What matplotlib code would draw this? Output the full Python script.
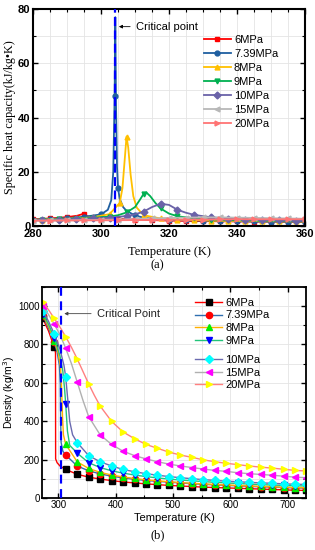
import matplotlib
matplotlib.use("Agg")
import matplotlib.pyplot as plt
from matplotlib.ticker import MultipleLocator

# ---- (a) specific heat capacity vs temperature ----
labels = ["6MPa", "7.39MPa", "8MPa", "9MPa", "10MPa", "15MPa", "20MPa"]

cp_T_6 = [280, 285, 290, 293, 294.5, 295, 295.6, 297, 300, 305, 310, 315, 320, 325, 330, 335, 340, 345, 350, 355, 360]
cp_6 = [2.5, 2.8, 3.3, 3.8, 4.4, 4.6, 3.7, 3.4, 3.1, 2.7, 2.4, 2.2, 2.0, 1.9, 1.8, 1.75, 1.7, 1.65, 1.6, 1.55, 1.5]

cp_T_739 = [280, 285, 290, 295, 300, 302, 303, 303.6, 304, 304.2, 304.4, 304.7, 305, 305.5, 306.5, 307.5, 310, 312.5,
            315, 320, 325, 330, 335, 340, 345, 350, 355, 360]
cp_739 = [2.4, 2.6, 2.9, 3.4, 4.3, 6.0, 9.5, 20, 48, 77, 45, 22, 14, 10, 7.0, 5.6, 3.9, 3.1, 2.7, 2.3, 2.1, 2.0,
          1.9, 1.8, 1.7, 1.65, 1.6, 1.55]

cp_T_8 = [280, 282.5, 287.5, 292.5, 297.5, 302.5, 305.5, 306.3, 307, 307.5, 308, 308.7, 309.5, 310.5, 312.5, 317.5,
          322.5, 327.5, 332.5, 337.5, 342.5, 347.5, 352.5, 357.5, 360]
cp_8 = [2.3, 2.4, 2.6, 2.8, 3.2, 4.4, 8.5, 14, 25, 33, 29, 19, 11, 6.8, 4.0, 2.8, 2.4, 2.2, 2.0, 1.9, 1.85, 1.8,
        1.75, 1.7, 1.65]

cp_T_9 = [280, 282.5, 287.5, 292.5, 297.5, 302.5, 305, 307.5, 310, 311.5, 312.5, 313.3, 314.5, 316, 317.5, 320,
          322.5, 327.5, 332.5, 337.5, 342.5, 347.5, 352.5, 357.5, 360]
cp_9 = [2.2, 2.3, 2.5, 2.7, 3.0, 3.5, 4.0, 5.0, 7.0, 9.8, 11.8, 12.4, 11.0, 8.5, 6.5, 4.6, 3.6, 2.8, 2.4, 2.2,
        2.05, 1.95, 1.9, 1.85, 1.8]

cp_T_10 = [280, 282.5, 287.5, 292.5, 297.5, 302.5, 307.5, 310, 312.5, 315, 317.5, 320, 322.5, 325, 327.5, 332.5,
           337.5, 342.5, 347.5, 352.5, 357.5, 360]
cp_10 = [2.1, 2.2, 2.4, 2.6, 2.8, 3.1, 3.7, 4.3, 5.3, 7.0, 8.2, 7.8, 6.0, 4.9, 4.1, 3.2, 2.7, 2.4, 2.2, 2.05,
         1.95, 1.9]

cp_T_15 = [280, 285, 290, 295, 300, 305, 310, 315, 320, 325, 330, 335, 340, 345, 350, 355, 360]
cp_15 = [2.0, 2.05, 2.1, 2.2, 2.3, 2.4, 2.6, 2.8, 3.0, 3.1, 3.2, 3.2, 3.1, 3.0, 2.9, 2.8, 2.7]

cp_T_20 = [280, 285, 290, 295, 300, 305, 310, 315, 320, 325, 330, 335, 340, 345, 350, 355, 360]
cp_20 = [2.0, 2.0, 2.05, 2.1, 2.1, 2.15, 2.2, 2.25, 2.3, 2.35, 2.4, 2.45, 2.5, 2.5, 2.5, 2.5, 2.5]

# ---- (b) density vs temperature ----
rho_T_6 = [273, 283, 293, 294.5, 295.2, 295.4, 298, 303, 313, 333, 353, 373, 393, 413, 433, 453, 473, 493, 513,
           533, 553, 573, 593, 613, 633, 653, 673, 693, 713, 733]
rho_6 = [935, 870, 785, 770, 755, 205, 185, 168, 150, 125, 110, 100, 92, 85, 80, 75, 71, 67, 64, 61, 58, 56, 54,
         52, 50, 48, 46, 44, 42, 41]

rho_T_739 = [273, 283, 293, 298, 302, 303.5, 304.2, 305, 308, 313, 333, 353, 373, 393, 413, 433, 453, 473, 493,
             513, 533, 553, 573, 593, 613, 633, 653, 673, 693, 713, 733]
rho_739 = [950, 885, 810, 760, 690, 600, 400, 290, 245, 225, 168, 143, 127, 115, 106, 99, 93, 88, 84, 80, 76, 73,
           70, 67, 65, 62, 60, 58, 56, 54, 53]

rho_T_8 = [273, 283, 293, 300, 304, 306, 307.5, 309, 313, 333, 353, 373, 393, 413, 433, 453, 473, 493, 513, 533,
           553, 573, 593, 613, 633, 653, 673, 693, 713, 733]
rho_8 = [955, 895, 820, 755, 680, 560, 420, 330, 280, 190, 155, 135, 121, 111, 103, 96, 91, 86, 82, 78, 75, 72,
         69, 67, 64, 62, 60, 58, 56, 55]

rho_T_9 = [273, 283, 293, 303, 308, 311, 313, 316, 320, 333, 353, 373, 393, 413, 433, 453, 473, 493, 513, 533,
           553, 573, 593, 613, 633, 653, 673, 693, 713, 733]
rho_9 = [960, 905, 835, 740, 660, 570, 490, 350, 275, 235, 185, 160, 143, 131, 121, 113, 106, 100, 95, 91, 87,
         83, 80, 77, 74, 71, 69, 67, 65, 64]

rho_T_10 = [273, 283, 293, 303, 310, 313, 317, 320, 325, 333, 353, 373, 393, 413, 433, 453, 473, 493, 513, 533,
            553, 573, 593, 613, 633, 653, 673, 693, 713, 733]
rho_10 = [975, 920, 855, 775, 690, 630, 500, 400, 330, 290, 222, 190, 168, 150, 138, 128, 120, 113, 107, 102,
          97, 93, 89, 86, 83, 80, 78, 75, 73, 72]

rho_T_15 = [273, 283, 293, 303, 313, 323, 333, 343, 353, 373, 393, 413, 433, 453, 473, 493, 513, 533, 553, 573,
            593, 613, 633, 653, 673, 693, 713, 733]
rho_15 = [1000, 955, 905, 850, 780, 700, 605, 510, 425, 330, 280, 245, 222, 205, 190, 178, 168, 160, 152, 145,
          140, 133, 128, 124, 120, 115, 110, 107]

rho_T_20 = [273, 283, 293, 303, 313, 323, 333, 343, 353, 363, 373, 393, 413, 433, 453, 473, 493, 513, 533, 553,
            573, 593, 613, 633, 653, 673, 693, 713, 733]
rho_20 = [1020, 980, 935, 890, 840, 785, 725, 660, 595, 535, 480, 400, 345, 310, 280, 260, 240, 225, 213, 200,
          190, 182, 175, 168, 162, 157, 151, 145, 142]

T_critical = 304.13

cp_series = [(cp_T_6, cp_6), (cp_T_739, cp_739), (cp_T_8, cp_8), (cp_T_9, cp_9),
             (cp_T_10, cp_10), (cp_T_15, cp_15), (cp_T_20, cp_20)]
rho_series = [(rho_T_6, rho_6), (rho_T_739, rho_739), (rho_T_8, rho_8), (rho_T_9, rho_9),
              (rho_T_10, rho_10), (rho_T_15, rho_15), (rho_T_20, rho_20)]

# styles
cp_colors = ["#ff0000", "#1f5fa0", "#ffc000", "#00b050", "#6a62a8", "#b8b8b8", "#ff7474"]
cp_markers = ["s", "o", "^", "v", "D", "<", ">"]
cp_offsets = [0, 0, 2.5, 2.5, 2.5, 0, 0]
cp_extra = [(), (304,), (305.5,), (), (), (), ()]

rho_line_colors = ["#ff0000", "#2f6fb0", "#ffb000", "#22c47a", "#6b6bb0", "#b0b0b0", "#ff8080"]
rho_marker_colors = ["#000000", "#ff0000", "#00ee00", "#0000ff", "#00ffff", "#ff00ff", "#ffff00"]
rho_markers = ["s", "o", "^", "v", "D", "<", ">"]


def mark_idx(T, step, offset=0, extra=()):
    return [i for i, t in enumerate(T) if abs((t - offset) % step) < 1e-6 or t in extra]


fig = plt.figure(figsize=(3.15, 5.5), dpi=100)

sans = "Liberation Sans"
serif = "Liberation Serif"

# ---------------- (a) ----------------
ax1 = fig.add_axes([0.105, 0.589, 0.863, 0.3946])
for (T, v), lab, c, m, off, ex in zip(cp_series, labels, cp_colors, cp_markers, cp_offsets, cp_extra):
    ax1.plot(T, v, color=c, lw=1.3, marker=m, ms=3.5, markevery=mark_idx(T, 5, off, ex), label=lab)
ax1.axvline(T_critical, color="#0000ff", lw=1.6, ls=(0, (4, 2)), zorder=5)
ax1.set_xlim(280, 360)
ax1.set_ylim(0, 80)
ax1.xaxis.set_major_locator(MultipleLocator(20))
ax1.xaxis.set_minor_locator(MultipleLocator(5))
ax1.yaxis.set_major_locator(MultipleLocator(20))
ax1.yaxis.set_minor_locator(MultipleLocator(10))
ax1.grid(True, which="both", color="#e4e4e4", lw=0.6)
ax1.set_axisbelow(True)
ax1.tick_params(which="both", direction="in", top=True, right=True, pad=2)
ax1.tick_params(which="major", length=3.5, width=1.0)
ax1.tick_params(which="minor", length=2, width=0.8)
for s in ax1.spines.values():
    s.set_linewidth(1.5)
for t in ax1.get_xticklabels() + ax1.get_yticklabels():
    t.set_fontfamily(sans)
    t.set_fontweight("bold")
    t.set_fontsize(8)
ax1.set_xlabel("Temperature (K)", family=serif, fontsize=9, labelpad=5)
ax1.set_ylabel("Specific heat capacity(kJ/kg\u2022K)", family=serif, fontsize=8.7, labelpad=1)
ax1.annotate("Critical point", xy=(T_critical + 0.3, 73.5), xytext=(310.2, 73.5),
             fontsize=8, family=sans, va="center",
             arrowprops=dict(arrowstyle="-|>", color="black", lw=0.6, mutation_scale=5))
ax1.legend(loc="upper left", bbox_to_anchor=(0.6, 0.915), frameon=False,
           prop={"family": sans, "size": 8}, handlelength=2.4, labelspacing=0.35,
           borderpad=0.2, handletextpad=0.3)

# ---------------- (b) ----------------
ax2 = fig.add_axes([0.134, 0.094, 0.839, 0.3847])
handles = []
for (T, v), lab, lc, mc, m in zip(rho_series, labels, rho_line_colors, rho_marker_colors, rho_markers):
    h, = ax2.plot(T, v, color=lc, lw=1.0, marker=m, ms=4.5, mfc=mc, mec=mc,
                  markevery=mark_idx(T, 20, 273), label=lab)
    handles.append(h)
ax2.axvline(T_critical, color="#0000ff", lw=1.6, ls=(0, (4, 2.5)), zorder=5)
ax2.set_xlim(272, 733)
ax2.set_ylim(0, 1100)
ax2.xaxis.set_major_locator(MultipleLocator(100))
ax2.xaxis.set_minor_locator(MultipleLocator(50))
ax2.yaxis.set_major_locator(MultipleLocator(200))
ax2.yaxis.set_minor_locator(MultipleLocator(100))
ax2.grid(True, which="both", color="#e4e4e4", lw=0.6)
ax2.set_axisbelow(True)
ax2.tick_params(which="both", direction="in", top=True, right=True, pad=1.5, labelsize=7)
ax2.tick_params(which="major", length=3.5, width=1.0)
ax2.tick_params(which="minor", length=2, width=0.8)
for s in ax2.spines.values():
    s.set_linewidth(1.3)
for t in ax2.get_xticklabels() + ax2.get_yticklabels():
    t.set_fontfamily(sans)
ax2.set_xlabel("Temperature (K)", family=sans, fontsize=8, labelpad=2)
ax2.set_ylabel("Density (kg/m$^3$)", family=sans, fontsize=7.5, labelpad=1)
ax2.annotate("Critical Point", xy=(T_critical + 1.5, 960), xytext=(367, 960),
             fontsize=8, family=sans, va="center", color="#222222",
             arrowprops=dict(arrowstyle="-|>", color="#444444", lw=0.6, mutation_scale=5))
leg1 = ax2.legend(handles=handles[:4], loc="upper left", bbox_to_anchor=(0.55, 0.985), frameon=False,
                  prop={"family": sans, "size": 8}, handlelength=2.4, labelspacing=0.25,
                  borderpad=0.2, handletextpad=0.3)
ax2.add_artist(leg1)
ax2.legend(handles=handles[4:], loc="upper left", bbox_to_anchor=(0.55, 0.715), frameon=False,
           prop={"family": sans, "size": 8}, handlelength=2.4, labelspacing=0.25,
           borderpad=0.2, handletextpad=0.3)

# captions
fig.text(0.5, 1 - 265 / 550, "(a)", ha="center", va="center", family=serif, fontsize=9)
fig.text(0.5, 1 - 535 / 550, "(b)", ha="center", va="center", family=serif, fontsize=9)

fig.savefig("out.png", dpi=100)
